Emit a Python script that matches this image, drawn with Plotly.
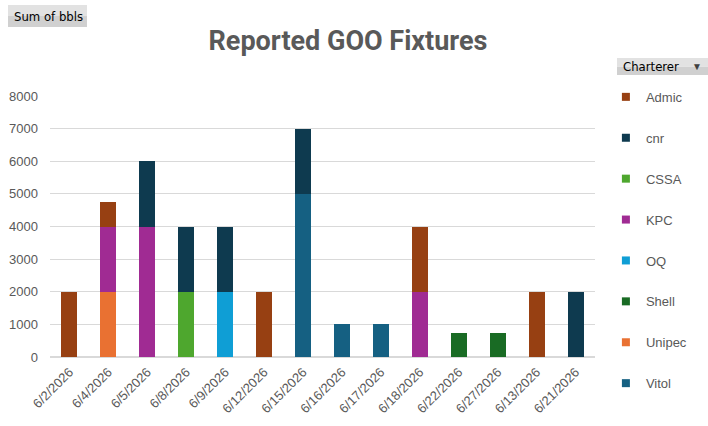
import plotly.graph_objects as go

# Categories in the pivot order
dates = ["6/2/2026", "6/4/2026", "6/5/2026", "6/8/2026", "6/9/2026", "6/12/2026", "6/15/2026",
         "6/16/2026", "6/17/2026", "6/18/2026", "6/22/2026", "6/27/2026", "6/13/2026", "6/21/2026"]

# Sum of bbls per charterer (None = no fixture that day)
admic  = [2000, 750, None, None, None, 2000, None, None, None, 2000, None, None, 2000, None]
cnr    = [None, None, 2000, 2000, 2000, None, 2000, None, None, None, None, None, None, 2000]
cssa   = [None, None, None, 2000, None, None, None, None, None, None, None, None, None, None]
kpc    = [None, 2000, 4000, None, None, None, None, None, None, 2000, None, None, None, None]
oq     = [None, None, None, None, 2000, None, None, None, None, None, None, None, None, None]
shell  = [None, None, None, None, None, None, None, None, None, None, 750, 750, None, None]
unipec = [None, 2000, None, None, None, None, None, None, None, None, None, None, None, None]
vitol  = [None, None, None, None, None, None, 5000, 1000, 1000, None, None, None, None, None]

# stacking order: first trace sits at the bottom
series = [
    ("Vitol", vitol, "#156082"),
    ("Unipec", unipec, "#E97132"),
    ("Shell", shell, "#196B24"),
    ("OQ", oq, "#0F9ED5"),
    ("KPC", kpc, "#A02B93"),
    ("CSSA", cssa, "#4EA72E"),
    ("cnr", cnr, "#0E3A4F"),
    ("Admic", admic, "#974012"),
]

fig = go.Figure()
for name, vals, color in series:
    fig.add_trace(go.Bar(
        x=dates, y=vals, name=name, legendgroup=name, showlegend=False,
        marker=dict(color=color, line=dict(width=0)),
    ))

# legend entries (small squares like Excel), listed top-down Admic -> Vitol
for name, vals, color in reversed(series):
    fig.add_trace(go.Scatter(
        x=[None], y=[None], mode="markers", name=name, legendgroup=name,
        marker=dict(symbol="square", size=8, color=color),
    ))

grey = "#595959"
fig.update_layout(
    barmode="stack",
    bargap=0.59,
    width=708, height=426,
    margin=dict(l=50, r=113, t=96, b=69),
    paper_bgcolor="white", plot_bgcolor="white",
    font=dict(family="Liberation Sans, Arial, sans-serif", size=13, color=grey),
    title=dict(text="<b>Reported GOO Fixtures</b>", x=0.4915, xanchor="center", y=0.905, yanchor="middle",
               font=dict(family="Roboto, sans-serif", size=27, color=grey)),
    legend=dict(traceorder="grouped", tracegroupgap=21, x=1.02, xanchor="left", y=1.054, yanchor="top",
                font=dict(size=13, color=grey), itemwidth=30, maxheight=420),
    xaxis=dict(type="category", tickangle=-45, showgrid=False, showline=False, ticks="",
               automargin=False, ticklabelstandoff=4, tickfont=dict(size=13, color=grey)),
    yaxis=dict(range=[0, 8000], dtick=1000, showgrid=True, gridcolor="#D9D9D9", gridwidth=1,
               zeroline=True, zerolinecolor="#D9D9D9", showline=False, ticks="",
               automargin=False, ticklabelstandoff=11, tickfont=dict(size=13, color=grey)),
)

# pivot field buttons (paper coords relative to the plot area)
def px_x(p):
    return (p - 50) / 545

def px_y(p):
    return (357 - p) / 261

buttons = [("Sum of bbls", 8, 87, 5, 27), ("Charterer", 617, 708, 58, 75)]
for label, x0, x1, y0, y1 in buttons:
    ym = (y0 + y1) / 2
    fig.add_shape(type="rect", xref="paper", yref="paper", x0=px_x(x0), x1=px_x(x1), y0=px_y(y1), y1=px_y(ym),
                  fillcolor="#D0D0D0", line=dict(width=0), layer="above")
    fig.add_shape(type="rect", xref="paper", yref="paper", x0=px_x(x0), x1=px_x(x1), y0=px_y(ym), y1=px_y(y0),
                  fillcolor="#E2E2E2", line=dict(width=0), layer="above")
    fig.add_annotation(xref="paper", yref="paper", x=px_x(x0 + 4), y=px_y(ym), xanchor="left", yanchor="middle",
                       text=label, showarrow=False,
                       font=dict(size=13, color="black", family="DejaVu Sans Condensed, DejaVu Sans, sans-serif"))

# dropdown arrow on the Charterer button
fig.add_annotation(xref="paper", yref="paper", x=px_x(697), y=px_y(66.5), xanchor="center", yanchor="middle",
                   text="▼", showarrow=False, font=dict(size=10, color="#404040"))

# drop the default 8px page margin so the figure sits at the window corner
fig.write_html("out.html", config={"displayModeBar": False},
               post_script="document.body.style.margin='0';")
